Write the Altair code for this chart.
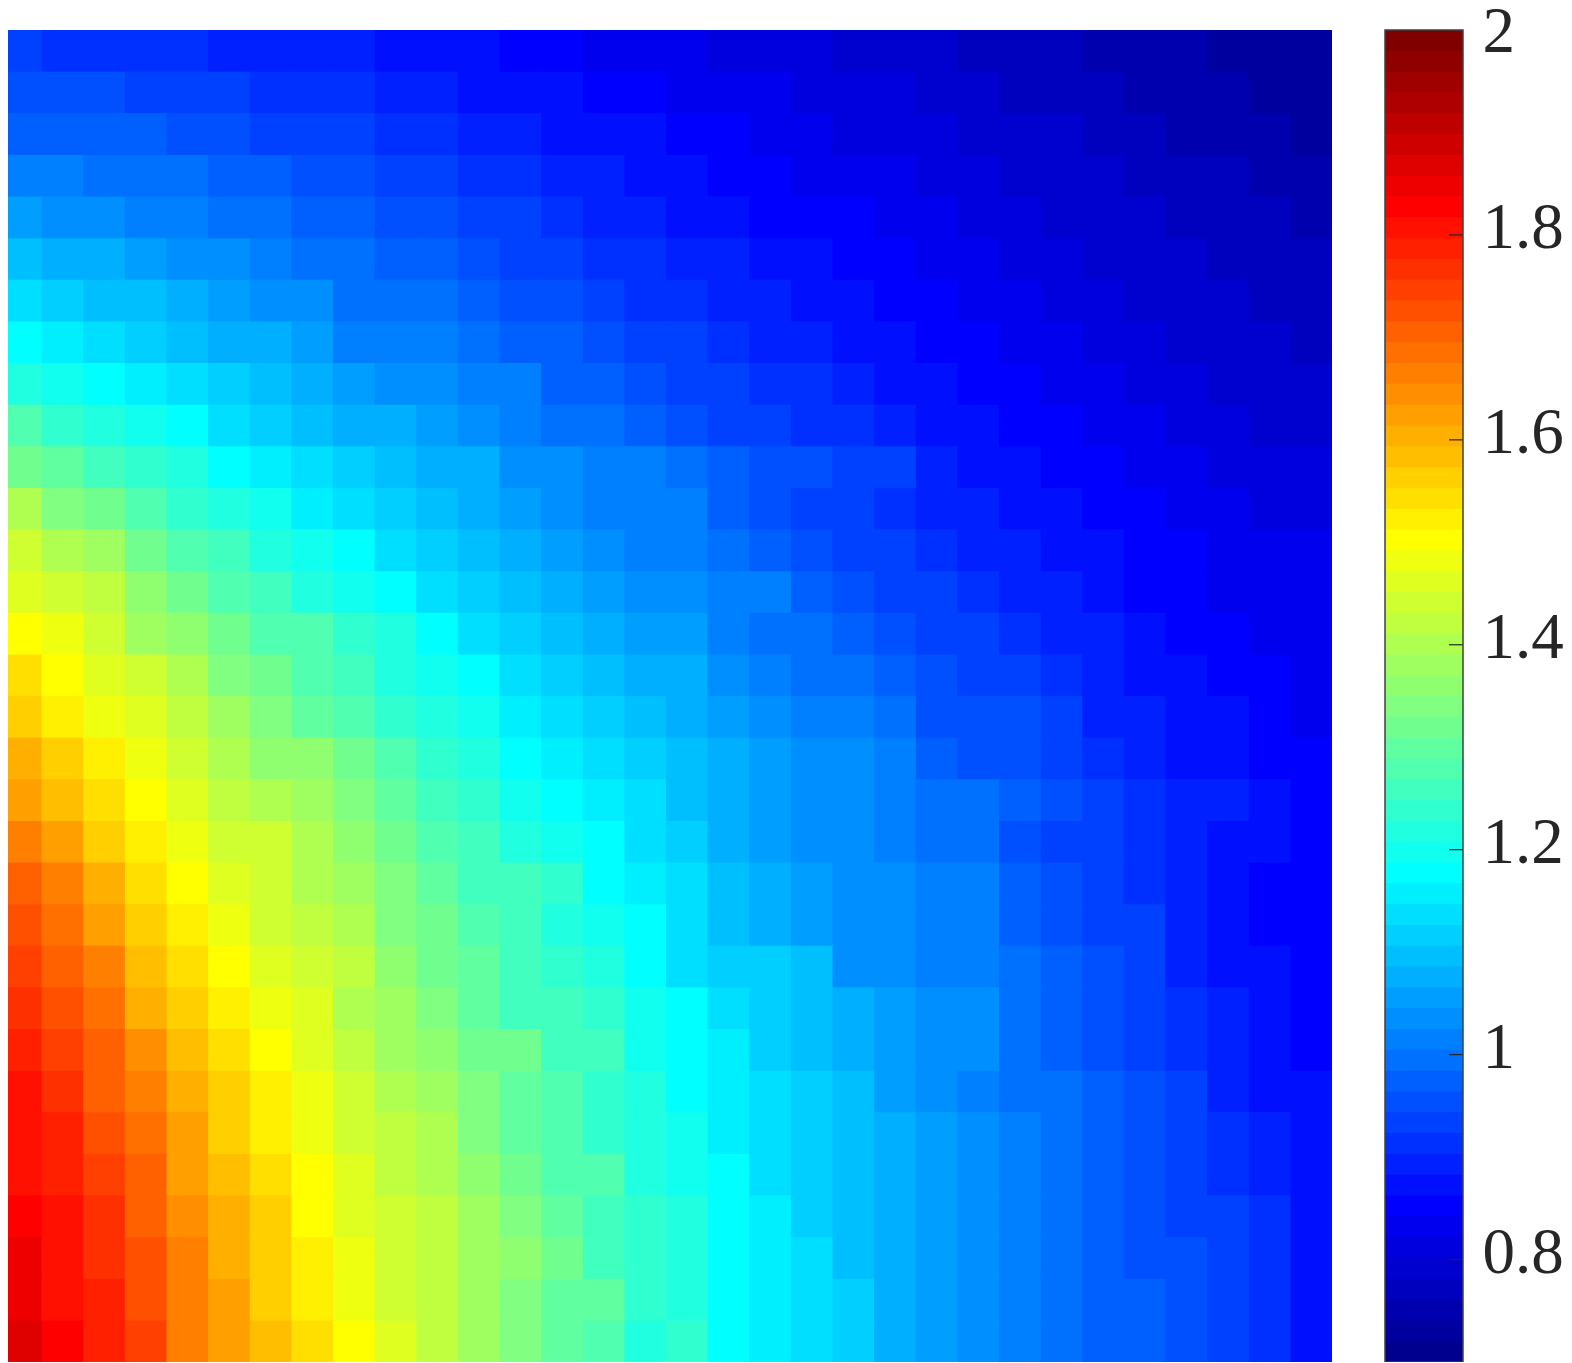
import altair as alt
import pandas as pd

# Colour level (0-63 of the 64-step jet map) read for each cell, top row first
ROWS = [
 [11,10,10,10,10,9,9,9,9,8,8,8,7,7,6,6, 6,5,5,5,4,4,4,3,3,3,2,2,2,1,1,1],
 [12,12,12,11,11,11,10,10,10,9,9,8,8,8,7,7, 6,6,6,5,5,5,4,4,3,3,3,2,2,2,1,1],
 [13,13,13,13,12,12,11,11,11,10,10,9,9,8,8,8, 7,7,6,6,5,5,5,4,4,4,3,3,2,2,2,1],
 [15,15,14,14,14,13,13,12,12,11,11,10,10,9,9,8, 8,7,7,6,6,6,5,5,4,4,4,3,3,3,2,2],
 [17,16,16,15,15,14,14,13,13,12,12,11,11,10,9,9, 8,8,7,7,7,6,6,5,5,4,4,4,3,3,3,2],
 [19,18,18,17,16,16,15,14,14,13,13,12,11,11,10,10, 9,9,8,8,7,7,6,6,5,5,4,4,4,3,3,3],
 [21,20,19,19,18,17,16,16,14,14,14,13,12,12,11,10, 10,9,9,8,8,7,7,6,6,5,5,4,4,4,3,3],
 [23,22,21,20,19,18,18,17,15,15,15,14,13,13,12,11, 11,10,9,9,8,8,7,7,6,6,5,5,4,4,4,3],
 [25,24,23,22,21,20,19,18,17,16,16,15,15,13,13,12, 11,11,10,10,9,8,8,7,7,6,6,5,5,4,4,4],
 [28,26,25,24,23,21,20,19,18,18,17,16,15,14,14,13, 12,11,11,10,10,9,8,8,7,7,6,6,5,5,4,4],
 [30,29,27,26,25,23,22,21,20,19,18,18,16,16,15,15, 14,13,12,12,11,11,9,8,8,7,7,6,6,5,5,5],
 [34,31,30,28,26,25,24,22,21,20,19,18,17,16,15,15, 15,13,12,11,11,10,9,9,8,8,7,7,6,6,5,5],
 [36,34,33,30,28,27,25,24,23,21,20,19,18,17,16,15, 15,14,13,12,11,11,10,9,9,8,8,7,7,6,6,6],
 [37,36,35,32,30,28,27,25,24,23,21,20,19,18,17,16, 16,15,15,13,12,11,11,10,9,9,8,7,7,6,6,6],
 [39,38,36,33,32,30,28,28,26,25,23,21,20,19,18,17, 17,15,14,14,13,12,11,11,10,9,9,8,7,7,6,6],
 [41,39,37,36,34,31,30,28,27,25,24,23,21,20,19,18, 18,16,15,14,14,13,12,11,11,10,9,8,8,7,7,6],
 [42,40,38,37,35,33,31,29,28,26,25,24,22,21,20,19, 18,17,16,15,15,14,12,12,12,11,9,9,8,8,7,6],
 [44,42,40,38,36,34,32,32,30,28,26,25,23,22,21,20, 19,18,17,16,16,15,13,12,12,11,10,9,8,8,7,7],
 [45,43,41,39,37,35,34,33,31,29,27,26,24,23,22,21, 19,18,17,16,16,15,14,14,13,12,11,10,9,9,8,7],
 [47,45,42,40,38,36,36,34,32,30,28,27,25,24,23,21, 20,18,17,16,16,15,14,14,12,11,11,10,9,8,8,7],
 [49,47,44,41,39,37,36,34,33,31,29,27,27,26,23,22, 21,19,18,17,16,16,15,15,13,12,11,10,9,8,7,7],
 [50,48,45,42,40,38,36,35,34,31,30,28,27,25,24,23, 21,19,18,17,16,16,15,15,13,12,11,11,9,8,7,7],
 [51,49,47,43,41,39,37,36,35,32,30,29,27,26,25,23, 21,20,20,19,16,16,15,15,14,13,12,11,9,8,8,7],
 [52,50,48,44,42,40,38,37,34,33,31,29,27,27,26,24, 23,21,20,19,18,17,16,16,14,13,12,11,10,9,8,7],
 [53,51,49,46,43,41,39,37,35,33,32,30,30,27,27,24, 23,22,20,19,18,17,16,16,14,13,12,11,10,9,8,7],
 [54,52,49,47,44,42,40,38,36,34,33,31,29,28,26,25, 23,22,21,20,19,17,16,15,14,14,13,12,11,9,8,8],
 [54,53,50,48,45,42,40,38,36,35,34,31,29,28,26,25, 24,22,21,20,19,18,17,16,15,14,13,12,11,10,9,8],
 [54,53,51,49,45,43,41,39,37,35,34,32,30,28,28,25, 24,23,21,20,19,18,17,16,15,14,13,12,11,10,9,8],
 [55,54,52,49,46,44,42,39,37,36,35,33,31,29,27,26, 25,23,22,20,19,18,17,16,15,14,13,12,11,11,10,8],
 [56,54,52,50,47,44,42,40,38,36,35,33,32,30,27,26, 25,23,22,21,19,18,17,16,15,14,13,12,12,11,10,8],
 [56,54,53,50,47,45,42,40,38,36,35,33,31,29,29,26, 25,23,22,21,20,18,17,16,15,14,13,13,12,11,10,8],
 [57,55,53,51,47,45,43,41,39,37,35,33,31,29,28,25, 26,23,22,21,20,18,17,16,15,14,13,13,12,11,10,8],
]
VMIN = 0.7
VMAX = 2.0
N_LEVELS = 64
TICKS = [0.8, 1.0, 1.2, 1.4, 1.6, 1.8, 2.0]
TICK_MARKS = [0.8, 1.0, 1.2, 1.4, 1.6, 1.8]
N_CELLS = 32

def clip01(v):
    return max(0.0, min(1.0, v))

def jet(m):
    out = []
    for k in range(m):
        x = 4 * (k + 1) / m
        r, g, b = (clip01(1.5 - abs(x - c)) for c in (3, 2, 1))
        out.append("#%02x%02x%02x" % (round(r * 255), round(g * 255), round(b * 255)))
    return out

step = (VMAX - VMIN) / N_LEVELS
cells = pd.DataFrame(
    [{"c0": c, "c1": min(c + 1.03, N_CELLS), "r0": r, "r1": r + 1.03, "v": VMIN + (lev + 0.5) * step}
     for r, row in enumerate(ROWS) for c, lev in enumerate(row)]
)
bands = pd.DataFrame(
    [{"lo": VMIN + i * step, "hi": VMIN + (i + 1) * step + 0.001, "v": VMIN + (i + 0.5) * step}
     for i in range(N_LEVELS)]
)

PLOT_H = 1332
color_scale = alt.Scale(type="quantize", domain=[VMIN, VMAX], range=jet(N_LEVELS))
cell_px = 1332 / N_CELLS
x_scale = alt.Scale(domain=[8 / cell_px, 1463 / cell_px], nice=False, zero=False)
y_heat = alt.Scale(domain=[N_CELLS, 0], nice=False, zero=False)
y_bar = alt.Scale(domain=[VMIN, VMAX], nice=False, zero=False)
FONT = "Liberation Serif"

bar_axis = alt.Axis(
    orient="right", values=TICKS, format="~g", grid=False, domain=False, ticks=False,
    title=None, labelFont=FONT, labelFontSize=65, labelColor="#262626",
    labelPadding=19, labelOverlap=False, labelBound=False, labelFlush=False,
    labelOffset=alt.expr("datum.value == 2 ? 1 : -7"),
)

heat = alt.Chart(cells).mark_rect(clip=True).encode(
    x=alt.X("c0:Q", scale=x_scale, axis=None),
    x2="c1:Q",
    y=alt.Y("r0:Q", scale=y_heat, axis=None),
    y2="r1:Q",
    color=alt.Color("v:Q", scale=color_scale, legend=None),
)

bar = alt.Chart(bands).mark_rect(clip=True).encode(
    x=alt.value(1377),
    x2=alt.value(1455),
    y=alt.Y("lo:Q", scale=y_bar, axis=bar_axis),
    y2="hi:Q",
    color=alt.Color("v:Q", scale=color_scale, legend=None),
)

ticks = alt.Chart(pd.DataFrame({"t": TICK_MARKS})).mark_rule(color="#262626", strokeWidth=1.2).encode(
    x=alt.value(1441),
    x2=alt.value(1455),
    y=alt.Y("t:Q", scale=y_bar, axis=bar_axis),
)

frame = alt.Chart(pd.DataFrame({"a": [0]})).mark_rect(
    fill=None, stroke="#404040", strokeWidth=1.5
).encode(
    x=alt.value(1377),
    x2=alt.value(1455),
    y=alt.value(0),
    y2=alt.value(PLOT_H),
)

chart = (
    alt.layer(heat, alt.layer(bar, ticks, frame))
    .resolve_scale(y="independent")
    .properties(
        width=1455,
        height=PLOT_H,
        padding={"left": 0, "top": 22, "right": 101, "bottom": 0},
        autosize=alt.AutoSizeParams(type="none", contains="content"),
        background="white",
    )
    .configure_view(stroke=None)
)

chart.save("out.html", embed_options={"renderer": "svg", "actions": False})
